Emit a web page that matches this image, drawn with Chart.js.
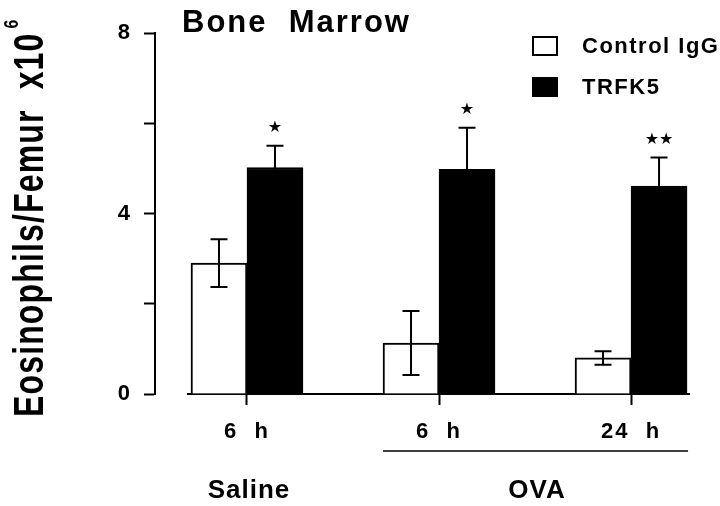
<!DOCTYPE html>
<html><head><meta charset="utf-8">
<script src="https://cdn.jsdelivr.net/npm/chart.js@4.4.1/dist/chart.umd.min.js"></script>
<style>html,body{margin:0;padding:0;background:#fff;}#wrap{width:720px;height:506px;}</style>
</head><body><div id="wrap"><canvas id="c" width="720" height="506"></canvas></div>
<script>
// ---- data ----
const categories = ['Saline 6 h', 'OVA 6 h', 'OVA 24 h'];
const timeLabels = ['6  h', '6  h', '24  h'];
const groupNames = ['Saline', 'OVA'];
const controlIgG = [2.90, 1.13, 0.80];
const controlErr = [0.53, 0.71, 0.15];
const trfk5 = [5.02, 4.98, 4.61];
const trfk5Err = [0.48, 0.92, 0.63];
const trfk5Sig = ['\u2605', '\u2605', '\u2605\u2605'];
const yTicks = [0, 2, 4, 6, 8];
const yLabeled = [0, 4, 8];
const titleText = 'Bone  Marrow';
const yTitleMain = 'Eosinophils/Femur  x10';
const yTitleSup = '6';

const FONT = "'Liberation Sans', Arial, Helvetica, sans-serif";
Chart.defaults.font.family = FONT;
Chart.defaults.color = '#000';
const BAR = 56;

const decor = {
  id: 'decor',
  beforeDraw(chart) {
    chart.ctx.letterSpacing = '2px';
  },
  beforeDatasetsDraw(chart) {
    const { ctx, scales: { y } } = chart;
    const m0 = chart.getDatasetMeta(0), m1 = chart.getDatasetMeta(1);
    const first = m0.data[0], last = m1.data[m1.data.length - 1];
    const y0 = y.getPixelForValue(0);
    ctx.save();
    ctx.strokeStyle = '#000'; ctx.lineWidth = 2;
    ctx.beginPath();
    ctx.moveTo(first.x - first.width / 2 - 4, y0);
    ctx.lineTo(last.x + last.width / 2 + 3, y0);
    ctx.stroke();
    ctx.restore();
  },
  afterDatasetsDraw(chart) {
    const { ctx, scales: { y } } = chart;
    ctx.save();
    chart.data.datasets.forEach((ds, di) => {
      const meta = chart.getDatasetMeta(di);
      meta.data.forEach((bar, i) => {
        const v = ds.data[i].y, e = ds.err[i];
        const yt = y.getPixelForValue(v + e), yb = y.getPixelForValue(v - e);
        ctx.strokeStyle = ds.errColor; ctx.lineWidth = 2;
        ctx.beginPath();
        ctx.moveTo(bar.x, yt); ctx.lineTo(bar.x, yb);
        ctx.moveTo(bar.x - 8.5, yt); ctx.lineTo(bar.x + 8.5, yt);
        ctx.moveTo(bar.x - 8.5, yb); ctx.lineTo(bar.x + 8.5, yb);
        ctx.stroke();
        if (ds.sig) {
          ctx.fillStyle = '#000';
          ctx.letterSpacing = '0px';
          ctx.font = "16px 'DejaVu Sans'";
          ctx.textAlign = 'center'; ctx.textBaseline = 'middle';
          ctx.fillText(ds.sig[i], bar.x, yt - 18);
        }
      });
    });
    ctx.restore();
  },
  afterDraw(chart) {
    const { ctx, scales: { x, y } } = chart;
    ctx.save();
    ctx.fillStyle = '#000';
    // title
    ctx.letterSpacing = '2px';
    ctx.font = 'bold 31px ' + FONT;
    ctx.textAlign = 'left'; ctx.textBaseline = 'alphabetic';
    ctx.fillText(titleText, 182, 32);
    // legend
    ctx.letterSpacing = '1.5px';
    ctx.font = 'bold 22px ' + FONT;
    ctx.textBaseline = 'middle';
    const legY = [46, 87];
    chart.data.datasets.forEach((ds, i) => {
      ctx.fillStyle = ds.backgroundColor;
      ctx.fillRect(533, legY[i] - 9, 24, 18);
      ctx.strokeStyle = '#000'; ctx.lineWidth = 2;
      ctx.strokeRect(533, legY[i] - 9, 24, 18);
      ctx.fillStyle = '#000';
      ctx.fillText(ds.label, 582, legY[i] + 1);
    });
    // group labels
    ctx.letterSpacing = '1px';
    ctx.font = 'bold 26px ' + FONT;
    ctx.textAlign = 'center'; ctx.textBaseline = 'middle';
    ctx.fillText(groupNames[0], x.getPixelForValue(0) + 2, 491);
    ctx.fillText(groupNames[1], (x.getPixelForValue(1) + x.getPixelForValue(2)) / 2 + 2, 491);
    // OVA underline
    const m0 = chart.getDatasetMeta(0), m1 = chart.getDatasetMeta(1);
    const a = m0.data[1], b = m1.data[2];
    ctx.strokeStyle = '#000'; ctx.lineWidth = 1.5;
    ctx.beginPath();
    ctx.moveTo(a.x - a.width / 2, 451); ctx.lineTo(b.x + b.width / 2 + 1, 451);
    ctx.stroke();
    // y title
    ctx.save();
    ctx.translate(43, 417);
    ctx.rotate(-Math.PI / 2);
    ctx.textAlign = 'left'; ctx.textBaseline = 'alphabetic';
    ctx.save();
    ctx.scale(1, 1.3);
    ctx.letterSpacing = '1.15px';
    ctx.font = 'bold 32px ' + FONT;
    ctx.fillText(yTitleMain, 0, 0);
    const w = ctx.measureText(yTitleMain).width;
    ctx.restore();
    ctx.save();
    ctx.translate(w + 4, -25);
    ctx.scale(1, 1.3);
    ctx.letterSpacing = '0px';
    ctx.font = 'bold 16px ' + FONT;
    ctx.fillText(yTitleSup, 0, 0);
    ctx.restore();
    ctx.restore();
    ctx.restore();
  }
};

new Chart(document.getElementById('c'), {
  type: 'bar',
  data: {
    datasets: [
      { label: 'Control IgG', data: controlIgG.map((v, i) => ({ x: i, y: v })), err: controlErr,
        backgroundColor: '#fff', borderColor: '#000', borderWidth: 2, barThickness: BAR, errColor: '#000' },
      { label: 'TRFK5', data: trfk5.map((v, i) => ({ x: i, y: v })), err: trfk5Err, sig: trfk5Sig,
        backgroundColor: '#000', borderColor: '#000', borderWidth: 2, barThickness: BAR, errColor: '#000' }
    ]
  },
  options: {
    responsive: false, animation: false,
    layout: { padding: { top: 33, right: 30, left: 0, bottom: 0 } },
    plugins: { legend: { display: false }, title: { display: false }, tooltip: { enabled: false } },
    scales: {
      x: {
        type: 'linear', min: -0.479, max: 2.307, offset: false,
        afterBuildTicks: s => { s.ticks = categories.map((c, i) => ({ value: i })); },
        afterFit: s => { s.height = 112; },
        grid: { offset: false, drawOnChartArea: false, drawTicks: true, tickLength: 11, tickColor: '#000', tickWidth: 2 },
        border: { display: false },
        ticks: { callback: v => timeLabels[v], font: { size: 22, weight: 'bold' }, color: '#000', padding: 14, maxRotation: 0, autoSkip: false }
      },
      y: {
        min: 0, max: 8,
        afterBuildTicks: s => { s.ticks = yTicks.map(v => ({ value: v })); },
        afterFit: s => { s.width = 155; },
        grid: { drawOnChartArea: false, drawTicks: true, tickLength: 11, tickColor: '#000', tickWidth: 2 },
        border: { display: true, color: '#000', width: 2 },
        ticks: { callback: v => yLabeled.includes(v) ? String(v) : '', font: { size: 22, weight: 'bold' }, color: '#000', padding: 12, autoSkip: false }
      }
    }
  },
  plugins: [decor]
});
</script>
</body></html>
